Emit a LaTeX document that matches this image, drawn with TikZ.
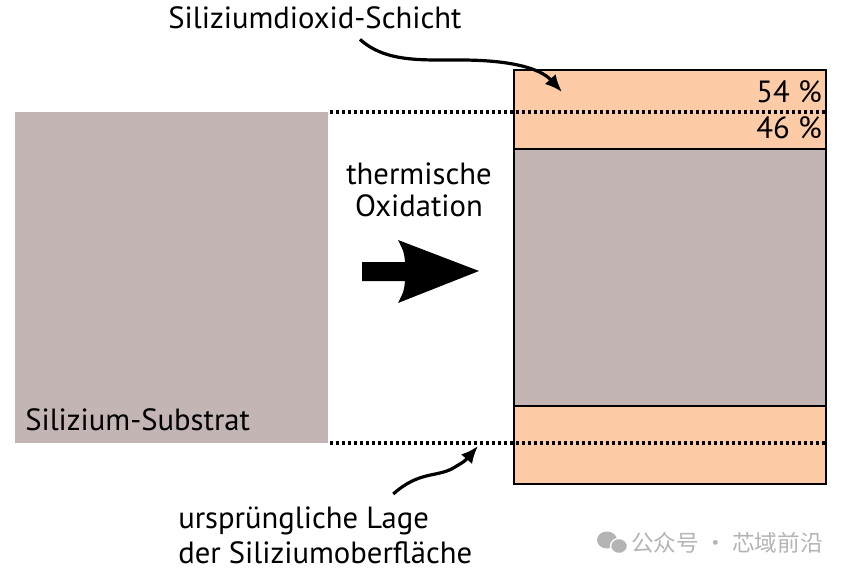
\documentclass[tikz,border=0pt]{standalone}
\usepackage{fontspec}
\setmainfont{PT Sans}
\newfontfamily\cjkfont{Noto Sans CJK SC}
\usetikzlibrary{arrows.meta}
\definecolor{substrat}{HTML}{C4B5B5}
\definecolor{oxid}{HTML}{FDCBA6}
\definecolor{wasser}{HTML}{B4B4B4}

\begin{document}
\begin{tikzpicture}[x=0.75pt,y=-0.75pt,
  label/.style={font=\fontsize{23}{24}\selectfont,inner sep=0pt},
  kurve/.style={-{Latex[length=13pt,width=11pt]},line width=2.4pt},
  punkte/.style={line width=2.6pt,dash pattern=on 2.5pt off 2pt},
  schicht/.style={draw=black,line width=1.1pt}]
\useasboundingbox (0,0) rectangle (848,577);

% substrate before oxidation
\fill[substrat] (15,112) rectangle (328,443);
\node[label,anchor=base west] (substr) at (25,430) {Silizium-Substrat};

% wafer after oxidation
\filldraw[schicht,fill=oxid] (514,70) rectangle (826,149);
\filldraw[schicht,fill=substrat] (514,149) rectangle (826,406);
\filldraw[schicht,fill=oxid] (514,406) rectangle (826,484);
\draw[punkte] (330,112) -- (826,112);
\draw[punkte] (330,443) -- (826,443);
\node[label,anchor=east] (anteil1) at (822,92) {54 \%};
\node[label,anchor=east] (anteil2) at (822,128) {46 \%};

% process arrow
\node[label,align=center] (proz) at (419,190) {thermische\\Oxidation};
\fill (362,262) -- (405,262) .. controls (404,252) .. (398,240)
  -- (479,271) -- (398,303) .. controls (404,291) .. (405,281)
  -- (362,281) -- cycle;

% labels with arrows
\node[label] (oxidlbl) at (315,18) {Siliziumdioxid-Schicht};
\coordinate (oxidziel) at (562,92);
\draw[kurve] ([shift={(45,10)}]oxidlbl.south) .. controls (385,62) and (420,60) .. (460,60)
  .. controls (510,60) and (540,68) .. (oxidziel);

\node[label,align=left,anchor=north west] (lagelbl) at (178,507) {ursprüngliche Lage\\[2pt]der Siliziumoberfläche};
\coordinate (lageziel) at (478,446);
\draw[kurve] ([shift={(68,-13)}]lagelbl.north) .. controls (420,470) and (438,478) .. (455,467)
  .. controls (465,461) .. (lageziel);

% watermark
\fill[wasser] (607,540) ellipse (10 and 8.5);
\filldraw[wasser,draw=white,line width=1pt] (619,546) ellipse (8.5 and 7.5);
\node[text=wasser,font=\cjkfont\fontsize{17}{18}\selectfont,anchor=west,inner sep=0pt] (wz) at (631,543) {公众号 · 芯域前沿};
\end{tikzpicture}
\end{document}
